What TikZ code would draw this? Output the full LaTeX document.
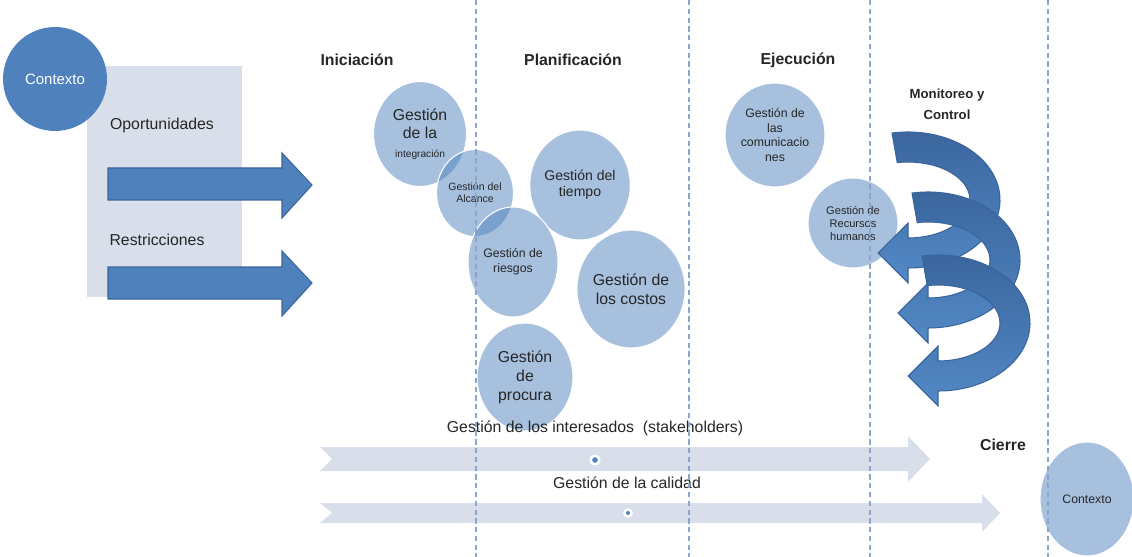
\documentclass[tikz,border=0pt]{standalone}
\usepackage{fontspec}
\setmainfont{Liberation Sans}
\setsansfont{Liberation Sans}
\usetikzlibrary{shapes}
\definecolor{azul}{HTML}{4F81BD}
\definecolor{azulosc}{HTML}{3A659C}
\definecolor{azulcla}{HTML}{5389C6}
\definecolor{gris}{HTML}{D9DFEA}
\definecolor{linea}{HTML}{8CA6CB}
\definecolor{texto}{HTML}{262626}
\tikzset{every node/.style={align=center,text=texto,inner sep=0pt}}
\tikzset{c/.style={ellipse,fill=azul,fill opacity=0.5,text opacity=1,draw=white,draw opacity=1,line width=0.6pt}}
\tikzset{fase/.style={font=\bfseries\fontsize{9}{10}\selectfont}}
\tikzset{f9/.style={font=\fontsize{9}{10.8}\selectfont}}
\tikzset{flecha/.style={fill=azul,draw=azulosc,line width=0.6pt}}
\tikzset{curva/.style={top color=azulosc,bottom color=azulcla,draw=azulosc,line width=0.6pt}}
\tikzset{corte/.style={draw=linea,dash pattern=on 3pt off 2pt,line width=0.7pt}}
\tikzset{punto/.style={circle,fill=azul,draw=white,line width=1.4pt,minimum size=0.17cm}}

\begin{document}
\begin{tikzpicture}[font=\sffamily,x=0.02cm,y=-0.02cm]
\useasboundingbox (0,0) rectangle (1132,557);
% entradas
\fill[gris] (87,66) rectangle (242,297);
\node[circle,fill=azul,minimum width=2.08cm,minimum height=2.06cm,text=white,font=\fontsize{8.5}{10}\selectfont,yshift=0.08cm] (ctx1) at (55,83) {Contexto};
\node[f9] (oport) at (162,125) {Oportunidades};
\node[f9] (restr) at (157,240) {Restricciones};
\draw[flecha] (108,168) -- (282,168) -- (282,153) -- (312,185) -- (282,218) -- (282,200) -- (108,200) -- cycle;
\draw[flecha] (108,267) -- (282,267) -- (282,251) -- (312,283) -- (282,316) -- (282,299) -- (108,299) -- cycle;

% areas
\node[c,minimum width=1.86cm,minimum height=2.1cm,font=\fontsize{9}{10.5}\selectfont] (integ) at (420,134) {Gestión\\de la\\{\fontsize{5.8}{6.5}\selectfont integración}};
\node[c,minimum width=1.54cm,minimum height=1.74cm,font=\fontsize{6}{7}\selectfont] (alcance) at (475,193) {Gestión del\\Alcance};
\node[c,minimum width=1.8cm,minimum height=2.2cm,font=\fontsize{8}{9}\selectfont] (tiempo) at (580,185) {Gestión del\\tiempo};
\node[c,minimum width=1.8cm,minimum height=2.2cm,font=\fontsize{7}{8.5}\selectfont] (riesgos) at (513,262) {Gestión de\\riesgos};
\node[c,minimum width=2.16cm,minimum height=2.36cm,font=\fontsize{9}{11}\selectfont] (costos) at (631,289) {Gestión de\\los costos};
\node[c,minimum width=1.92cm,minimum height=2.16cm,font=\fontsize{9}{10.8}\selectfont] (procura) at (525,377) {Gestión\\de\\procura};
\node[c,minimum width=2.0cm,minimum height=2.08cm,font=\fontsize{7}{8.5}\selectfont] (comunic) at (775,135) {Gestión de\\las\\comunicacio\\nes};
\node[c,minimum width=1.8cm,minimum height=1.8cm,font=\fontsize{6.3}{7.4}\selectfont] (recursos) at (853,223) {Gestión de\\Recursos\\humanos};
\node[c,minimum width=1.88cm,minimum height=2.28cm,font=\fontsize{7}{8}\selectfont] (ctx2) at (1087,499) {Contexto};

% monitoreo y control
\foreach \cx/\cy in {908/200,928/260,938/323}
  \draw[curva,shift={(\cx,\cy)}] (-100:92 and 68) arc[start angle=-100,end angle=90,x radius=92,y radius=68]
    -- (0,83) -- (-30,53) -- (0,23) -- (0,38) arc[start angle=90,end angle=-100,x radius=62,y radius=38] -- cycle;

% transversales
\fill[gris] (320,447) -- (908,447) -- (908,436) -- (930,459) -- (908,482) -- (908,471) -- (320,471) -- (332,459) -- cycle;
\fill[gris] (320,503) -- (982,503) -- (982,494) -- (1000,513) -- (982,532) -- (982,523) -- (320,523) -- (332,513) -- cycle;
\node[punto] (p1) at (595,460) {};
\node[punto,minimum size=0.14cm] (p2) at (628,513) {};
\node[f9] (interes) at (595,428) {Gestión de los interesados \ (stakeholders)};
\node[f9] (calidad) at (627,483) {Gestión de la calidad};

\foreach \x in {476,689,870,1048}
  \draw[corte] (\x,0) -- (\x,557);

% fases
\node[fase] (ini) at (357,60) {Iniciación};
\node[fase] (plan) at (573,60) {Planificación};
\node[fase] (eje) at (798,60) {Ejecución};
\node[fase,font=\bfseries\fontsize{7.5}{12}\selectfont] (mon) at (947,104) {Monitoreo y\\Control};
\node[fase] (cierre) at (1003,445) {Cierre};
\end{tikzpicture}
\end{document}
